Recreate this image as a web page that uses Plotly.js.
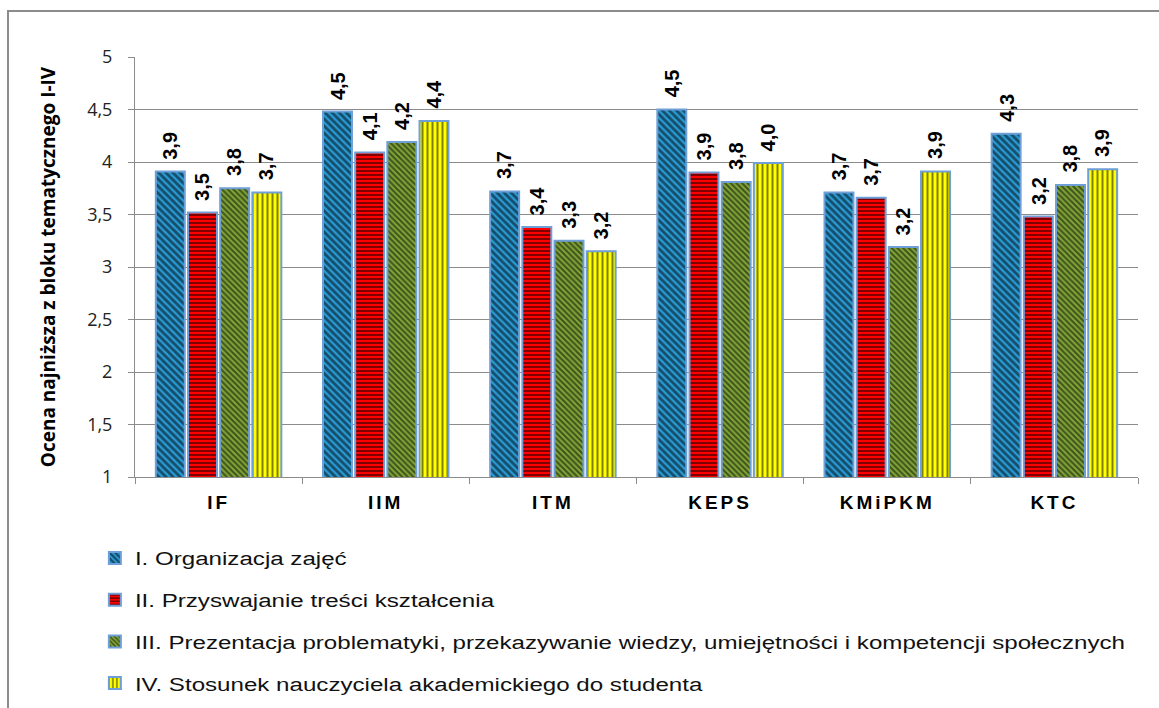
<!DOCTYPE html>
<html>
<head>
<meta charset="utf-8">
<script src="https://cdn.plot.ly/plotly-3.0.1.min.js"></script>
<style>
  html, body { margin: 0; padding: 0; background: #fff; }
  #frame { position: absolute; left: 7px; top: 10px; width: 1200px; height: 800px;
           border-left: 2px solid #8c8c8c; border-top: 2px solid #8c8c8c; }
  #chart { position: absolute; left: 0; top: 0; width: 1159px; height: 708px; }
  #chart .legend .scrollbox { clip-path: none !important; }
  #chart .legendtext { transform-box: fill-box; transform-origin: left center; transform: scaleX(1.27); }
  #chart .xtick text { letter-spacing: 3px; }
</style>
</head>
<body>
<div id="frame"></div>
<div id="chart"></div>
<script>
const categories = ['IF', 'IIM', 'ITM', 'KEPS', 'KMiPKM', 'KTC'];
const seriesNames = [
  'I. Organizacja zajęć',
  'II. Przyswajanie treści kształcenia',
  'III. Prezentacja problematyki, przekazywanie wiedzy, umiejętności i kompetencji społecznych',
  'IV. Stosunek nauczyciela akademickiego do studenta'
];
const valuesI   = [3.91, 4.48, 3.72, 4.50, 3.71, 4.27];
const valuesII  = [3.52, 4.09, 3.38, 3.90, 3.66, 3.48];
const valuesIII = [3.75, 4.19, 3.25, 3.81, 3.19, 3.78];
const valuesIV  = [3.71, 4.39, 3.15, 3.99, 3.91, 3.93];
const labelsI   = ['3,9', '4,5', '3,7', '4,5', '3,7', '4,3'];
const labelsII  = ['3,5', '4,1', '3,4', '3,9', '3,7', '3,2'];
const labelsIII = ['3,8', '4,2', '3,3', '3,8', '3,2', '3,8'];
const labelsIV  = ['3,7', '4,4', '3,2', '4,0', '3,9', '3,9'];
const yTicks = [1, 1.5, 2, 2.5, 3, 3.5, 4, 4.5, 5];
const yTickText = ['1', '1,5', '2', '2,5', '3', '3,5', '4', '4,5', '5'];

const styles = [
  {bg: '#2a9bd4', shape: '\\', size: 5, solidity: 0.55},
  {bg: '#ff0000', shape: '-', size: 4, solidity: 0.5},
  {bg: '#86ad3a', shape: '\\', size: 4, solidity: 0.55},
  {bg: '#ffff00', shape: '|', size: 5, solidity: 0.4}
];
const allValues = [valuesI, valuesII, valuesIII, valuesIV];
const allLabels = [labelsI, labelsII, labelsIII, labelsIV];
const BARGAP = 0.23;

const traces = allValues.map((vals, i) => ({
  type: 'bar',
  name: seriesNames[i],
  legendgroup: 'g' + i,
  x: categories,
  y: vals,
  hoverinfo: 'x+y+name',
  marker: {
    color: styles[i].bg,
    line: {color: '#6f9fd8', width: 2},
    pattern: {shape: styles[i].shape, fgcolor: '#000', bgcolor: styles[i].bg,
              size: styles[i].size, solidity: styles[i].solidity, fillmode: 'overlay'}
  }
}));

// value labels placed above each bar, centred on the bar's slot within its group
const nSeries = allValues.length;
const slot = (1 - BARGAP) / nSeries;
const annotations = [];
allValues.forEach((vals, s) => {
  vals.forEach((v, c) => {
    annotations.push({
      xref: 'x', yref: 'y',
      x: c - (1 - BARGAP) / 2 + slot * (s + 0.5),
      y: v,
      text: allLabels[s][c],
      showarrow: false,
      textangle: -90,
      xanchor: 'center', yanchor: 'bottom',
      yshift: 11, borderpad: 0,
      font: {family: 'Liberation Sans, Arial, sans-serif', size: 20, color: '#000', weight: 'bold'}
    });
  });
});

const layout = {
  width: 1159, height: 708,
  paper_bgcolor: 'rgba(0,0,0,0)',
  plot_bgcolor: 'rgba(0,0,0,0)',
  margin: {l: 135, r: 21, t: 57, b: 231, autoexpand: false},
  barmode: 'group',
  bargap: BARGAP,
  bargroupgap: 0.1,
  showlegend: true,
  annotations: annotations,
  legend: {
    orientation: 'v', x: -0.04, xanchor: 'left', y: -0.148, yanchor: 'top',
    font: {family: 'Liberation Sans, Arial, sans-serif', size: 19, color: '#111'},
    tracegroupgap: 14, traceorder: 'grouped', itemwidth: 30
  },
  xaxis: {
    type: 'category',
    showline: true, linecolor: '#8c8c8c', linewidth: 1,
    ticks: 'outside', tickson: 'boundaries', ticklen: 6, tickcolor: '#8c8c8c',
    ticklabelstandoff: 8,
    tickfont: {family: 'Liberation Sans, Arial, sans-serif', size: 19, color: '#000', weight: 'bold'},
    showgrid: false, zeroline: false
  },
  yaxis: {
    range: [1, 5],
    tickvals: yTicks, ticktext: yTickText,
    showline: true, linecolor: '#8c8c8c', linewidth: 1,
    ticks: 'outside', ticklen: 6, tickcolor: '#8c8c8c',
    ticklabelstandoff: 12,
    showgrid: true, gridcolor: '#8c8c8c', gridwidth: 1,
    zeroline: false,
    tickfont: {family: 'Open Sans, sans-serif', size: 18, color: '#222'},
    title: {text: 'Ocena najniższa z bloku tematycznego I-IV',
            font: {family: 'Open Sans, sans-serif', size: 19, color: '#000', weight: 'bold'},
            standoff: 26}
  },
  font: {family: 'Liberation Sans, Arial, sans-serif'}
};

Plotly.newPlot('chart', traces, layout, {displayModeBar: false, staticPlot: true});
</script>
</body>
</html>
